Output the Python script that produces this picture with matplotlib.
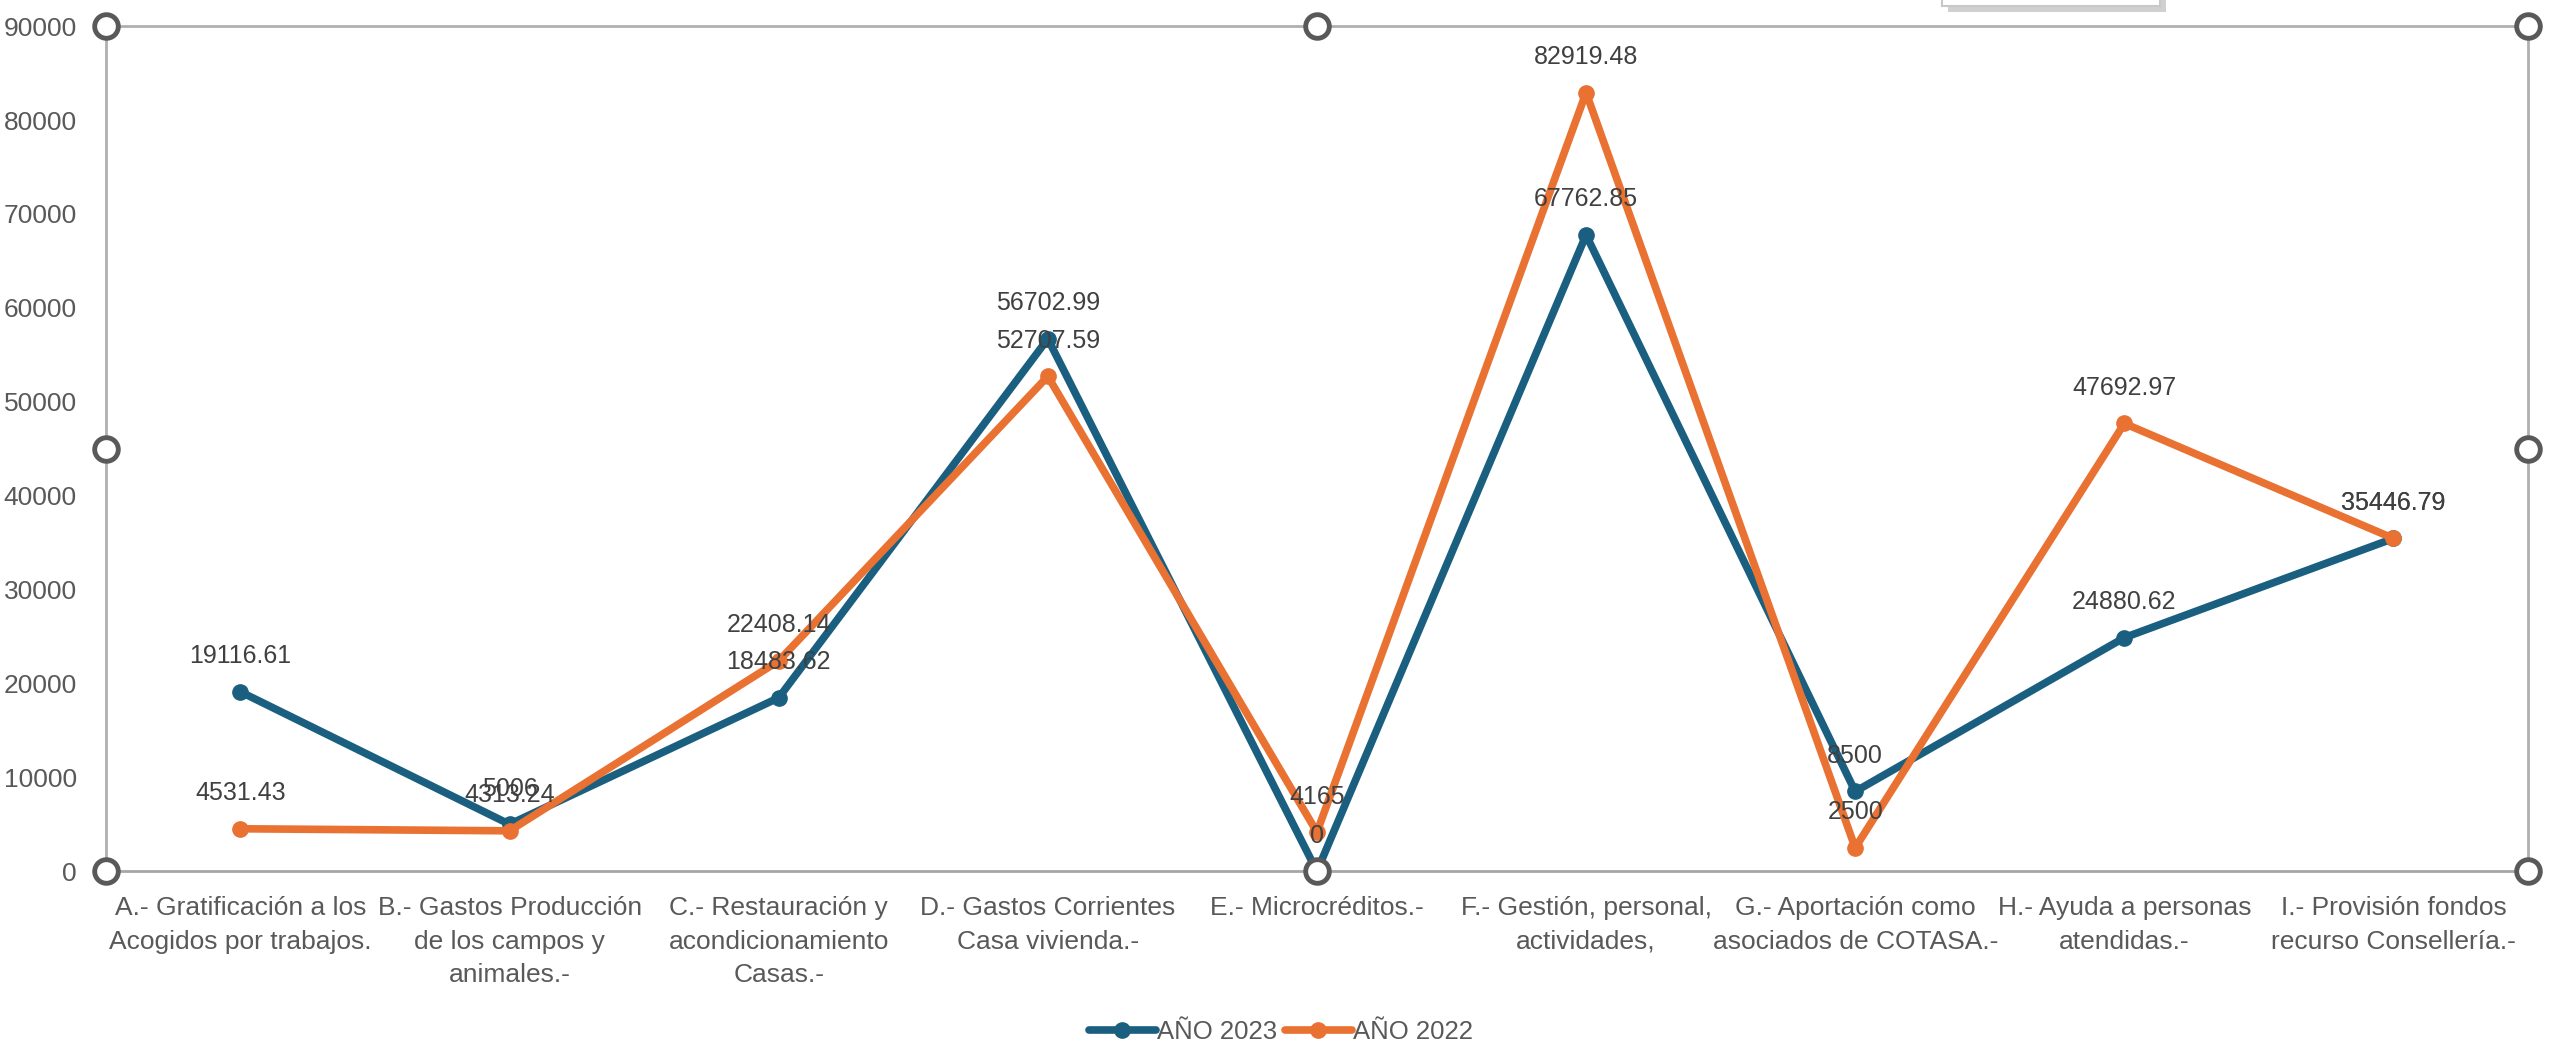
import numpy as np
import matplotlib
matplotlib.use('Agg')
import matplotlib.pyplot as plt
from matplotlib.patches import Rectangle

plt.rcParams['font.family'] = ['Liberation Sans', 'DejaVu Sans']

categorias = ['A.- Gratificación a los\nAcogidos por trabajos.',
              'B.- Gastos Producción\nde los campos y\nanimales.-',
              'C.- Restauración y\nacondicionamiento\nCasas.-',
              'D.- Gastos Corrientes\nCasa vivienda.-',
              'E.- Microcréditos.-',
              'F.- Gestión, personal,\nactividades,',
              'G.- Aportación como\nasociados de COTASA.-',
              'H.- Ayuda a personas\natendidas.-',
              'I.- Provisión fondos\nrecurso Consellería.-']
ano_2023 = [19116.61, 5006, 18483.62, 56702.99, 0, 67762.85, 8500, 24880.62, 35446.79]
ano_2022 = [4531.43, 4313.24, 22408.14, 52707.59, 4165, 82919.48, 2500, 47692.97, 35446.79]
etiq_2023 = ['19116.61', '5006', '18483.62', '56702.99', '0', '67762.85', '8500', '24880.62', '35446.79']
etiq_2022 = ['4531.43', '4313.24', '22408.14', '52707.59', '4165', '82919.48', '2500', '47692.97', '35446.79']
yticks   = np.arange(0, 90001, 10000)

azul    = '#1a5f80'
naranja = '#e97132'
gris    = '#595959'

fig = plt.figure(figsize=(25.52, 10.46), dpi=100)
ax  = fig.add_axes([0.0415, 0.167, 0.9491, 0.808])

x = np.arange(len(categorias))
series = [(ano_2023, etiq_2023, azul, 'AÑO 2023'), (ano_2022, etiq_2022, naranja, 'AÑO 2022')]
for serie, etiq, col, nombre in series:
    ax.plot(x, serie, color=col, lw=5.5, marker='o', ms=11, label=nombre, solid_capstyle='round')
    for xi, v, t in zip(x, serie, etiq):
        ax.annotate(t, (xi, v), xytext=(0, 17), textcoords='offset points',
                    ha='center', va='bottom', fontsize=18, color='#404040')

ax.set_xlim(-0.5, len(categorias) - 0.5)
ax.set_ylim(0, 90000)
ax.set_yticks(yticks)
ax.set_yticklabels([str(t) for t in yticks], fontsize=19, color=gris)
ax.set_xticks(x)
ax.set_xticklabels(categorias, fontsize=19, color=gris, linespacing=1.5, va='top')
ax.tick_params(length=0, pad=18)
ax.tick_params(axis='y', pad=21)
for s in ax.spines.values():
    s.set_color('#b0b0b0')
    s.set_linewidth(2)
ax.spines['bottom'].set_color('#a6a6a6')

# selection handles of the chart frame
hx = [0, 0.5, 1, 0, 1, 0, 0.5, 1]
hy = [1, 1, 1, 0.5, 0.5, 0, 0, 0]
ax.plot(hx, hy, 'o', transform=ax.transAxes, clip_on=False, ms=17,
        mfc='white', mec=gris, mew=3.5, zorder=10)

# small popup box at the top edge
fig.patches.append(Rectangle((1948 / 2552, 1 - 12 / 1046), 218 / 2552, 14 / 1046,
                             transform=fig.transFigure, fc='#d0d0d0', ec='none'))
fig.patches.append(Rectangle((1942 / 2552, 1 - 6 / 1046), 218 / 2552, 8 / 1046,
                             transform=fig.transFigure, fc='white', ec='#c8c8c8', lw=1.5))

fig.legend(loc='lower center', bbox_to_anchor=(0.502, -0.02), ncol=2, frameon=False,
           fontsize=18.5, handlelength=2.6, handletextpad=0.05, columnspacing=0.3,
           labelcolor=gris)

fig.savefig('out.png', dpi=100)
